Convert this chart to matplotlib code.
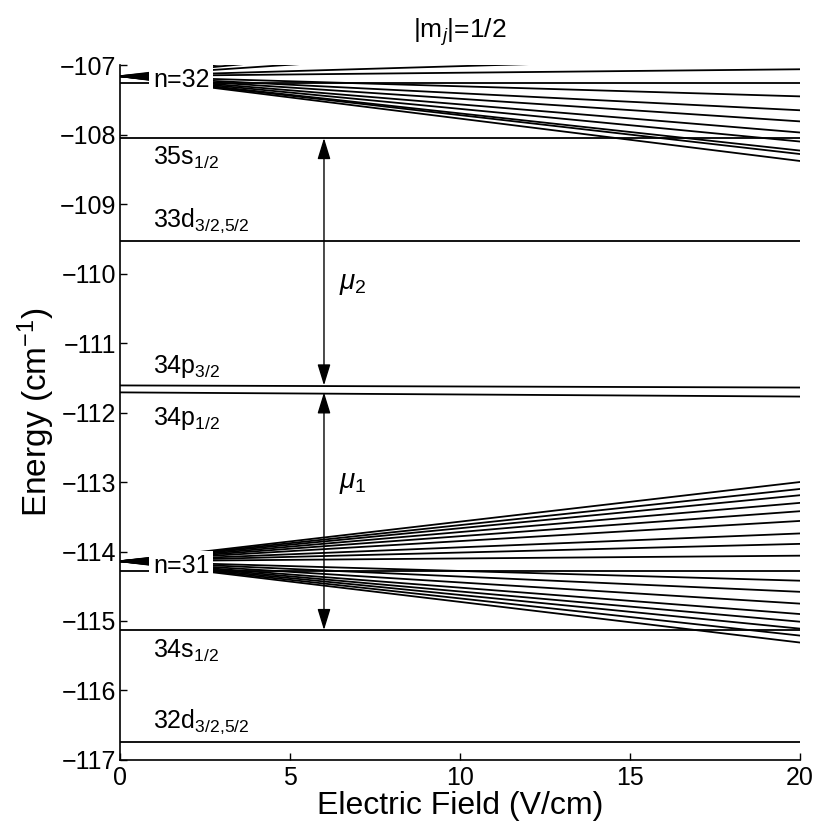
import matplotlib
matplotlib.use('Agg')
import matplotlib.pyplot as plt

plt.rcParams['font.family'] = ['Liberation Sans', 'DejaVu Sans']
plt.rcParams['mathtext.fontset'] = 'custom'
plt.rcParams['mathtext.rm'] = 'Liberation Sans'
plt.rcParams['mathtext.it'] = 'Liberation Sans:italic'

# field range (V/cm)
f_start = 0.0
f_end = 20.0

# Stark manifolds: zero-field energy and energies at 20 V/cm (cm^-1)
n32_e0 = -107.16
n32_ends = [-106.0, -106.2, -106.5, -106.87, -107.06, -107.45, -107.65,
            -107.81, -107.97, -108.10, -108.23, -108.28, -108.38]
n32_flat = -107.26

n31_e0 = -114.14
n31_ends = [-113.00, -113.10, -113.19, -113.30, -113.42, -113.56, -113.74, -113.89,
            -114.06, -114.42, -114.58, -114.75, -114.90, -115.01, -115.11,
            -115.21, -115.31]
n31_flat = -114.28

# low-l states: energy at 0 and at 20 V/cm
level_names = ['35s$_{1/2}$', '33d$_{3/2{,}5/2}$', '34p$_{3/2}$', '34p$_{1/2}$',
               '34s$_{1/2}$', '32d$_{3/2{,}5/2}$']
level_e0 = [-108.05, -109.53, -111.61, -111.71, -115.13, -116.74]
level_e20 = [-108.05, -109.53, -111.64, -111.77, -115.13, -116.74]
level_label_y = [-108.44, -109.32, -111.43, -112.18, -115.53, -116.54]

# transition arrows at 6 V/cm
arrow_f = 6.0
mu2 = (-108.05, -111.61)
mu1 = (-111.71, -115.13)

fig = plt.figure(figsize=(8.19, 8.24), dpi=100)
ax = fig.add_axes([0.1465, 0.0777, 0.8303, 0.8433])

lw = 1.3
for e in n32_ends:
    ax.plot([f_start, f_end], [n32_e0, e], color='black', lw=lw)
ax.plot([f_start, f_end], [n32_flat, n32_flat], color='black', lw=lw)
for e in n31_ends:
    ax.plot([f_start, f_end], [n31_e0, e], color='black', lw=lw)
ax.plot([f_start, f_end], [n31_flat, n31_flat], color='black', lw=lw)

for e0, e20 in zip(level_e0, level_e20):
    ax.plot([f_start, f_end], [e0, e20], color='black', lw=lw)

for name, y in zip(level_names, level_label_y):
    ax.text(0.97, y, name, fontsize=18, va='baseline', ha='left')

ax.text(0.97, -107.22, 'n=32', fontsize=18, va='center', ha='left', zorder=5,
        bbox=dict(facecolor='white', edgecolor='none', pad=2.5))
ax.text(0.97, -114.21, 'n=31', fontsize=18, va='center', ha='left', zorder=5,
        bbox=dict(facecolor='white', edgecolor='none', pad=2.5))

astyle = '<|-|>,head_length=0.65,head_width=0.2'
for (top, bot) in [mu2, mu1]:
    ax.annotate('', xy=(arrow_f, bot), xytext=(arrow_f, top),
                arrowprops=dict(arrowstyle=astyle, color='black', lw=1.0,
                                shrinkA=0, shrinkB=0, mutation_scale=20))
ax.text(6.45, -110.15, r'$\mu_2$', fontsize=20, va='center', ha='left')
ax.text(6.45, -113.02, r'$\mu_1$', fontsize=20, va='center', ha='left')

ax.set_xlim(0, 20)
ax.set_ylim(-117, -107)
ax.set_xticks([0, 5, 10, 15, 20])
ax.set_yticks(range(-117, -106))
ax.spines['top'].set_visible(False)
ax.spines['right'].set_visible(False)
for s in ['left', 'bottom']:
    ax.spines[s].set_linewidth(1.2)
ax.tick_params(direction='in', length=5, width=1.0, labelsize=18)
ax.tick_params(axis='x', pad=4)
ax.tick_params(axis='y', pad=3)

ax.set_xlabel('Electric Field (V/cm)', fontsize=23, labelpad=1)
ax.set_ylabel('Energy (cm$^{-1}$)', fontsize=24, labelpad=2)
ax.set_title('|m$_j$|=1/2', fontsize=19, pad=20)

fig.savefig('out.png', dpi=100)
